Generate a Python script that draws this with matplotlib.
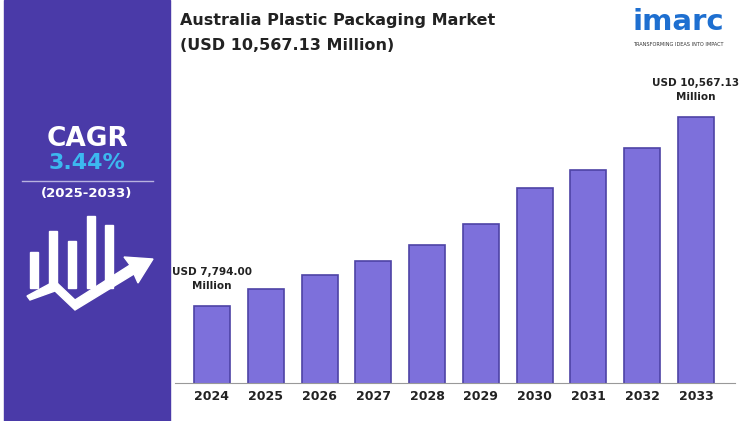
import matplotlib
matplotlib.use("Agg")
import matplotlib.pyplot as plt
from matplotlib.patches import Rectangle, Polygon

years = ["2024","2025","2026","2027","2028","2029","2030","2031","2032","2033"]
values = [7794.00, 8043, 8248, 8454, 8688, 8997, 9525, 9789, 10112, 10567.13]
first_label = "USD 7,794.00\nMillion"
last_label = "USD 10,567.13\nMillion"

W, H = 750, 421
fig = plt.figure(figsize=(7.5, 4.21), dpi=100)
fig.patch.set_facecolor("white")

def fx(x): return x / W
def fy(y): return 1 - y / H

bg = fig.add_axes([0, 0, 1, 1]); bg.set_axis_off(); bg.set_xlim(0, W); bg.set_ylim(H, 0)
bg.add_patch(Rectangle((4, 0), 166, H, color="#4a3aa8"))
bg.text(87, 139, "CAGR", color="white", fontsize=19, fontweight="bold", ha="center", va="center")
bg.text(87, 163, "3.44%", color="#3cb8f0", fontsize=16, fontweight="bold", ha="center", va="center")
bg.plot([22, 153], [180.5, 180.5], color="#b8b2e0", lw=1)
bg.text(87, 194, "(2025-2033)", color="white", fontsize=9.5, fontweight="bold", ha="center", va="center")
for x0, top in [(30, 252), (49, 231), (68, 241), (87, 216), (105, 225)]:
    bg.add_patch(Rectangle((x0, top), 8, 288 - top, color="white"))
bg.add_patch(Polygon([(27, 296), (55, 281), (75, 300), (130, 265), (124, 257), (153, 259), (138, 283), (134, 274),
                      (75, 310), (55, 291), (30, 300)], color="white"))
bg.text(180, 21, "Australia Plastic Packaging Market", fontsize=11.5, fontweight="bold", va="center", color="#222222")
bg.text(180, 45, "(USD 10,567.13 Million)", fontsize=11.5, fontweight="bold", va="center", color="#222222")
bg.text(678, 22, "imarc", fontsize=21, fontweight="bold", color="#1e6fd0", ha="center", va="center")
bg.text(678, 45, "TRANSFORMING IDEAS INTO IMPACT", fontsize=3.6, color="#333333", ha="center", va="center")

ax = fig.add_axes([fx(175), fy(383), fx(735) - fx(175), (383 - 100) / H])
ax.set_xlim(-0.688, 9.725)
ax.set_ylim(6664, 6664 + 283 * 14.67)
x = range(len(years))
ax.bar(x, values, bottom=0, width=0.67, color="#7d70db", edgecolor="#4e43a6", linewidth=1.2)
for s in ["top", "right", "left"]:
    ax.spines[s].set_visible(False)
ax.spines["bottom"].set_color("#999999")
ax.set_yticks([])
ax.set_xticks(list(x))
ax.set_xticklabels(years, fontsize=9, fontweight="bold", color="#222222")
ax.tick_params(axis="x", length=0, pad=5)
ax.patch.set_alpha(0)
ax.text(0, values[0] + 220, first_label, ha="center", va="bottom", fontsize=7.5, fontweight="bold", color="#222222", linespacing=1.5)
ax.text(9, values[-1] + 220, last_label, ha="center", va="bottom", fontsize=7.5, fontweight="bold", color="#222222", linespacing=1.5)

fig.savefig("out.png", dpi=100)
